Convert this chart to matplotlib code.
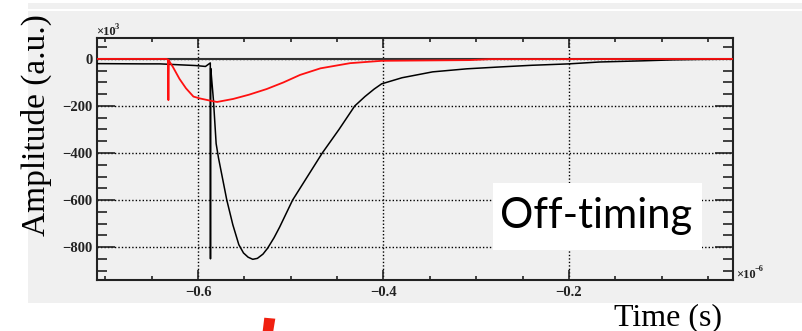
import matplotlib
matplotlib.use("Agg")
import matplotlib.pyplot as plt
from matplotlib.patches import Rectangle, Polygon
from matplotlib.lines import Line2D
from matplotlib.ticker import MultipleLocator

W, H = 803, 331

# waveforms: time in units of 1e-6 s, amplitude in units of 1e3 a.u.
black_t = [-0.709, -0.66, -0.641, -0.62, -0.603, -0.592, -0.5868, -0.5866, -0.5864,
           -0.5862, -0.5834, -0.5805, -0.578, -0.574, -0.569, -0.5625, -0.556, -0.551,
           -0.546, -0.541, -0.536, -0.530, -0.525, -0.518, -0.512, -0.498, -0.482,
           -0.466, -0.448, -0.431, -0.42, -0.41, -0.402, -0.38, -0.347, -0.31, -0.274,
           -0.24, -0.2, -0.167, -0.12, -0.088, -0.06, -0.023]
black_a = [-20, -21, -21, -25, -28, -32, -17, -850, -40,
           -45, -175, -360, -420, -500, -600, -705, -790, -825,
           -843, -852, -848, -830, -805, -760, -715, -600, -500,
           -400, -300, -200, -160, -128, -106, -80, -55, -42, -34,
           -27, -21, -13, -8, -4, -2, -1]

red_t = [-0.709, -0.634, -0.6325, -0.632, -0.6315, -0.631, -0.627, -0.62, -0.613,
         -0.605, -0.598, -0.585, -0.5795, -0.562, -0.545, -0.526, -0.508, -0.49,
         -0.468, -0.436, -0.402, -0.307, -0.285, -0.023]
red_a = [0, 0, -3, -175, -5, -10, -35, -85, -125,
         -160, -168, -179, -183, -170, -152, -128, -100, -68,
         -40, -18, -8, -5, -1, 0]

x_range = (-0.709, -0.023)
y_range = (-940, 89)

BG = "#f0f0f0"
INK = "#222222"
serif = "Liberation Serif"


def fx(px):
    return px / W


def fy(py):
    return 1 - py / H


fig = plt.figure(figsize=(W / 100, H / 100), dpi=100, facecolor="white")

# grey canvas behind the pad
fig.add_artist(Rectangle((fx(28), fy(303)), fx(803) - fx(28), fy(3) - fy(303),
                         transform=fig.transFigure, facecolor=BG, edgecolor="none", zorder=0))
fig.add_artist(Line2D([fx(28), 1], [fy(10), fy(10)], transform=fig.transFigure,
                      color="white", lw=1.5, zorder=0.5))

ax = fig.add_axes([fx(97), fy(280), fx(733) - fx(97), fy(38) - fy(280)])
ax.set_facecolor(BG)
ax.set_xlim(*x_range)
ax.set_ylim(*y_range)

ax.xaxis.set_major_locator(MultipleLocator(0.2))
ax.xaxis.set_minor_locator(MultipleLocator(0.05))
ax.yaxis.set_major_locator(MultipleLocator(200))
ax.yaxis.set_minor_locator(MultipleLocator(50))

ax.tick_params(axis="both", which="both", direction="in", top=True, right=True,
               color=INK, width=1.2)
ax.tick_params(axis="y", which="major", length=13, pad=3)
ax.tick_params(axis="y", which="minor", length=7)
ax.tick_params(axis="x", which="major", length=7, pad=4)
ax.tick_params(axis="x", which="minor", length=3)
for lab in ax.get_xticklabels() + ax.get_yticklabels():
    lab.set_fontfamily(serif)
    lab.set_fontweight("bold")
    lab.set_fontsize(10.5)
    lab.set_color(INK)

for s in ax.spines.values():
    s.set_linewidth(1.5)
    s.set_color(INK)

ax.grid(True, which="major", color="black", lw=1.0, linestyle=(0, (1, 1.5)))
ax.axhline(0, color="#333333", lw=1.5, zorder=2)

ax.plot(black_t, black_a, color="black", lw=1.1, zorder=3)
ax.plot(red_t, red_a, color="#ff1010", lw=1.3, zorder=4)

# axis multipliers
fig.text(fx(96), fy(35), "\u00d710", family=serif, weight="bold", fontsize=9, color=INK)
fig.text(fx(115), fy(29), "3", family=serif, weight="bold", fontsize=6, color=INK)
fig.text(fx(736), fy(278), "\u00d710", family=serif, weight="bold", fontsize=9, color=INK)
fig.text(fx(755), fy(271), "\u22126", family=serif, weight="bold", fontsize=6, color=INK)

fig.text(fx(45), fy(125.5), "Amplitude (a.u.)", family=serif, fontsize=24, rotation=90,
         rotation_mode="anchor", ha="center", va="baseline")
fig.text(fx(668), fy(325), "Time (s)", family=serif, fontsize=23, ha="center", va="baseline")

# label box
fig.add_artist(Rectangle((fx(493), fy(250)), fx(702) - fx(493), fy(183) - fy(250),
                         transform=fig.transFigure, facecolor="white", edgecolor="none", zorder=5))
fig.text(fx(596), fy(228), "Off-timing", family="Lato", fontsize=30, ha="center",
         va="baseline", zorder=6)

fig.add_artist(Polygon([(fx(264.3), fy(317.7)), (fx(275.3), fy(318.7)),
                        (fx(273.3), fy(331)), (fx(262.7), fy(331))],
                       closed=True, transform=fig.transFigure, facecolor="#f02010",
                       edgecolor="none", zorder=5))

fig.savefig("out.png", dpi=100)
